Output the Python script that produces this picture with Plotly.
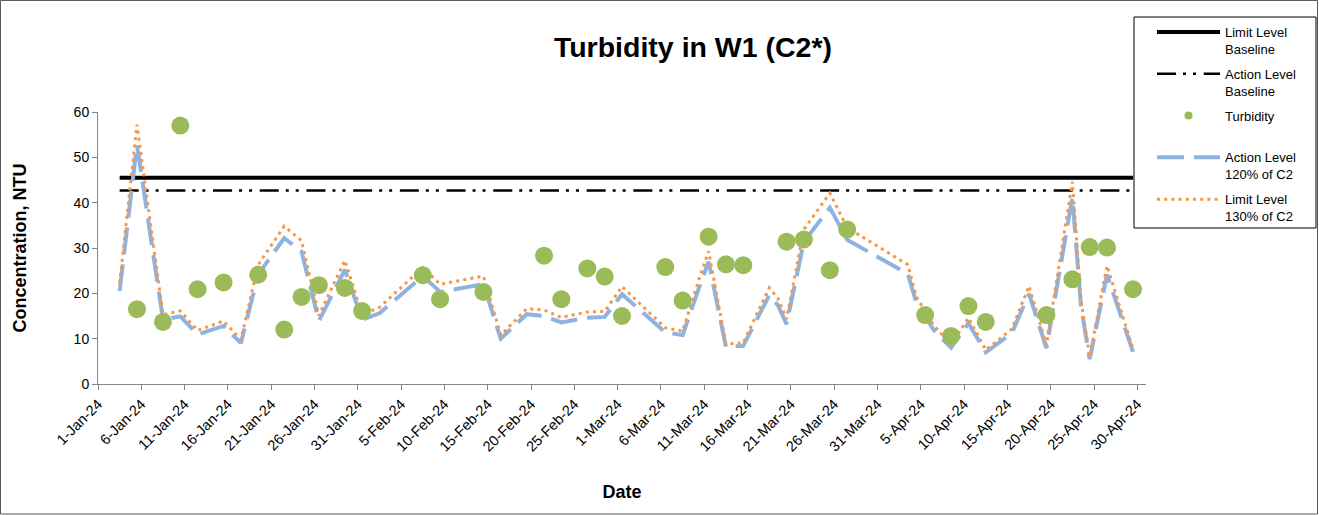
import pandas as pd
import plotly.graph_objects as go

# ---- data -------------------------------------------------------------
turbidity_dates = [
    "2024-01-05", "2024-01-08", "2024-01-10", "2024-01-12", "2024-01-15",
    "2024-01-19", "2024-01-22", "2024-01-24", "2024-01-26", "2024-01-29",
    "2024-01-31", "2024-02-07", "2024-02-09", "2024-02-14", "2024-02-21",
    "2024-02-23", "2024-02-26", "2024-02-28", "2024-03-01", "2024-03-06",
    "2024-03-08", "2024-03-11", "2024-03-13", "2024-03-15", "2024-03-20",
    "2024-03-22", "2024-03-25", "2024-03-27", "2024-04-05", "2024-04-08",
    "2024-04-10", "2024-04-12", "2024-04-19", "2024-04-22", "2024-04-24",
    "2024-04-26", "2024-04-29",
]
turbidity = [
    16.5, 13.7, 57.0, 20.9, 22.4,
    24.1, 12.0, 19.2, 21.8, 21.2,
    16.1, 24.0, 18.7, 20.3, 28.3,
    18.7, 25.5, 23.7, 15.0, 25.8,
    18.4, 32.5, 26.4, 26.2, 31.4,
    31.9, 25.1, 34.1, 15.2, 10.6,
    17.2, 13.7, 15.2, 23.1, 30.2,
    30.1, 20.9,
]

c2_dates = [
    "2024-01-03", "2024-01-05", "2024-01-08", "2024-01-10", "2024-01-12",
    "2024-01-15", "2024-01-17", "2024-01-19", "2024-01-22", "2024-01-24",
    "2024-01-26", "2024-01-29", "2024-01-31", "2024-02-02", "2024-02-07",
    "2024-02-09", "2024-02-14", "2024-02-16", "2024-02-19", "2024-02-21",
    "2024-02-23", "2024-02-26", "2024-02-28", "2024-03-01", "2024-03-06",
    "2024-03-08", "2024-03-10", "2024-03-11", "2024-03-13", "2024-03-15",
    "2024-03-18", "2024-03-19", "2024-03-20", "2024-03-22", "2024-03-25",
    "2024-03-27", "2024-04-03", "2024-04-04", "2024-04-06", "2024-04-08",
    "2024-04-10", "2024-04-12", "2024-04-15", "2024-04-17", "2024-04-19",
    "2024-04-22", "2024-04-23", "2024-04-24", "2024-04-26", "2024-04-29",
]
# Action Level (120% of C2)
action_c2 = [
    20.5, 52.8, 14.2, 14.9, 10.9,
    12.8, 9.0, 24.2, 32.2, 29.2,
    13.9, 25.2, 14.2, 15.6, 23.8,
    20.3, 22.0, 10.0, 15.4, 15.0,
    13.6, 14.6, 14.8, 19.8, 11.4,
    10.8, 21.8, 27.0, 8.2, 8.4,
    19.6, 17.4, 13.2, 31.4, 38.9,
    31.8, 24.3, 17.8, 11.9, 8.0,
    13.4, 7.0, 11.2, 19.9, 7.9,
    41.2, 17.0, 5.5, 24.1, 7.1,
]
# Limit Level (130% of C2)
limit_c2 = [
    22.2, 57.2, 15.3, 16.1, 11.8,
    13.9, 9.8, 26.3, 34.8, 31.6,
    15.1, 27.3, 15.3, 16.9, 25.7,
    22.0, 23.8, 10.8, 16.6, 16.3,
    14.7, 15.9, 16.0, 21.5, 12.4,
    11.7, 23.7, 29.3, 8.8, 9.1,
    21.2, 18.9, 14.3, 34.1, 42.1,
    34.5, 26.3, 19.2, 12.9, 8.7,
    14.6, 7.5, 12.1, 21.6, 8.6,
    44.6, 18.5, 6.0, 26.1, 7.7,
]

baseline_dates = ["2024-01-03", "2024-04-29"]
limit_baseline = [45.5, 45.5]
action_baseline = [42.7, 42.7]

y_ticks = [0, 10, 20, 30, 40, 50, 60]

# ---- styling ----------------------------------------------------------
FONT = "Liberation Sans, Arial, sans-serif"
GREEN = "#9BBB59"
BLUE = "#8DB3E2"
ORANGE = "#F79646"
AXIS_GREY = "#868686"

W, H = 1319, 515
M_L, M_R, M_T, M_B = 98, 173, 112, 131
PW, PH = W - M_L - M_R, H - M_T - M_B


def px_x(px):
    """page x pixel -> paper x"""
    return (px - M_L) / PW


def px_y(py):
    """page y pixel -> paper y"""
    return (H - M_B - py) / PH


# daily samples are plotted in the middle of their day slot
half_day = pd.Timedelta(hours=12)


def day_mid(dates):
    return pd.to_datetime(dates) + half_day


fig = go.Figure()

fig.add_trace(go.Scatter(
    x=day_mid(baseline_dates), y=limit_baseline, mode="lines",
    name="Limit Level<br>Baseline", legendrank=1, legendgroup="a",
    line=dict(color="black", width=4),
))
fig.add_trace(go.Scatter(
    x=day_mid(baseline_dates), y=action_baseline, mode="lines",
    name="Action Level<br>Baseline", legendrank=2, legendgroup="b",
    line=dict(color="black", width=2.5, dash="19px,7px,3px,7px,3px,7.7px"),
))
fig.add_trace(go.Scatter(
    x=day_mid(c2_dates), y=action_c2, mode="lines",
    name="Action Level<br>120% of C2", legendrank=4, legendgroup="d",
    line=dict(color=BLUE, width=4, dash="27px,10px"),
))
fig.add_trace(go.Scatter(
    x=day_mid(c2_dates), y=limit_c2, mode="lines",
    name="Limit Level<br>130% of C2", legendrank=5, legendgroup="e",
    line=dict(color=ORANGE, width=3, dash="3px,4.2px"),
))
# smaller symbol for the legend entry
fig.add_trace(go.Scatter(
    x=[None], y=[None], mode="markers",
    name="Turbidity<br>\u00a0", legendrank=3, legendgroup="c",
    marker=dict(color=GREEN, size=8, line=dict(width=0)),
))
fig.add_trace(go.Scatter(
    x=day_mid(turbidity_dates), y=turbidity, mode="markers",
    name="Turbidity", showlegend=False, legendgroup="c",
    marker=dict(color=GREEN, size=18, line=dict(width=0)),
))

fig.update_layout(
    width=W, height=H,
    margin=dict(l=M_L, r=M_R, t=M_T, b=M_B, autoexpand=False),
    paper_bgcolor="white", plot_bgcolor="white",
    font=dict(family=FONT, color="black", size=13),
    title=dict(
        text="<b>Turbidity in W1 (C2*)</b>",
        font=dict(family=FONT, size=28.5, color="black"),
        x=px_x(693), xref="paper", xanchor="center",
        y=1 - 47 / H, yref="container", yanchor="middle",
    ),
    legend=dict(
        x=px_x(1152), xanchor="left",
        y=px_y(17), yanchor="top",
        bgcolor="rgba(0,0,0,0)", borderwidth=0,
        font=dict(family=FONT, size=13, color="black"),
        itemwidth=63, valign="top", tracegroupgap=5,
        traceorder="grouped",
    ),
    showlegend=True,
)

fig.update_xaxes(
    type="date",
    range=["2024-01-01", "2024-05-01"],
    tickmode="linear", tick0="2024-01-01", dtick=5 * 86400000,
    tickformat="%-d-%b-%y", tickangle=-45,
    ticks="outside", ticklen=5, tickcolor=AXIS_GREY,
    showline=True, linecolor=AXIS_GREY, linewidth=1,
    showgrid=False, zeroline=False,
    tickfont=dict(family=FONT, size=14.5, color="black"),
    title=dict(text="<b>Date</b>", font=dict(family=FONT, size=18, color="black"),
               standoff=31),
)
fig.update_yaxes(
    range=[0, 60], tickmode="array", tickvals=y_ticks,
    ticks="outside", ticklen=5, tickcolor=AXIS_GREY,
    showline=True, linecolor=AXIS_GREY, linewidth=1,
    showgrid=False, zeroline=False,
    tickfont=dict(family=FONT, size=14, color="black"),
    title=dict(text="<b>Concentration, NTU</b>",
               font=dict(family=FONT, size=18, color="black"), standoff=42),
)

# legend frame
fig.add_shape(
    type="rect", xref="paper", yref="paper", layer="below",
    x0=px_x(1134), x1=px_x(1316), y0=px_y(228), y1=px_y(17),
    line=dict(color="black", width=1), fillcolor="white",
)
# outer chart frame
fig.add_shape(
    type="rect", xref="paper", yref="paper", layer="below",
    x0=px_x(0.5), x1=px_x(W - 1.5), y0=px_y(H - 1.0), y1=px_y(0.5),
    line=dict(color="#595959", width=1), fillcolor="rgba(0,0,0,0)",
)

fig.write_html("out.html")
